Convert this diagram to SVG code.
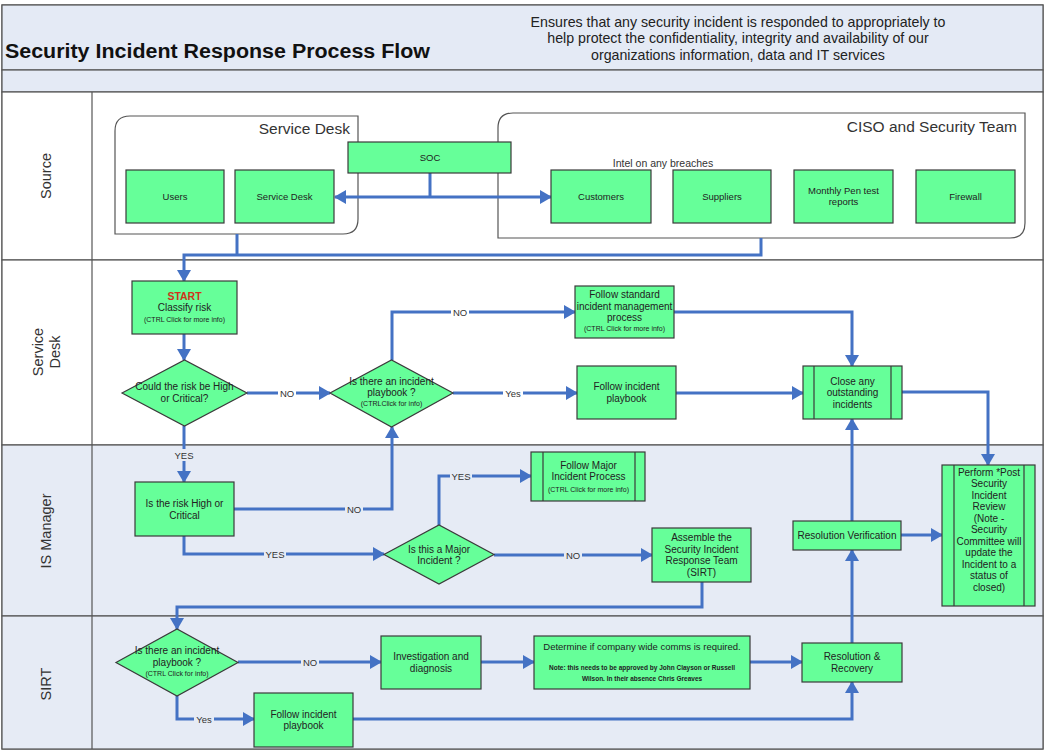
<svg xmlns="http://www.w3.org/2000/svg" width="1049" height="751" viewBox="0 0 1049 751">
<style>
text{font-family:"Liberation Sans",Arial,sans-serif;fill:#222}
.n{fill:#66FF99;stroke:#3a3a3a;stroke-width:1.2}
.il{stroke:#3a3a3a;stroke-width:1.2}
.t{font-size:10px;text-anchor:middle}
.ts{font-size:9.5px;text-anchor:middle}
.tx{font-size:7px;text-anchor:middle}
.c{fill:none;stroke:#4472C4;stroke-width:3}
.lb{font-size:9.5px;text-anchor:middle;fill:#333}
.lane{font-size:14.5px;text-anchor:middle;fill:#333}
.cont{fill:#fff;stroke:#555;stroke-width:1.2}
.hd{font-size:14.2px;text-anchor:middle;fill:#222}
</style>
<defs>
<marker id="ah" viewBox="0 0 12 14" markerWidth="12" markerHeight="14" refX="11" refY="7" orient="auto" markerUnits="userSpaceOnUse"><path d="M0,0 L12,7 L0,14 z" fill="#4472C4"/></marker>
</defs>

<g id="frame">
<rect x="2" y="5" width="1041" height="744" fill="#fff" stroke="#555" stroke-width="1.2"/>
<rect x="2" y="5" width="1041" height="65" fill="#e4eaf5" stroke="#555" stroke-width="1.2"/>
<rect x="2" y="70" width="1041" height="22" fill="#e4eaf5" stroke="#555" stroke-width="1.2"/>
<rect x="2" y="92" width="1041" height="168" fill="#fff" stroke="#555" stroke-width="1.2"/>
<rect x="2" y="260" width="1041" height="185" fill="#fff" stroke="#555" stroke-width="1.2"/>
<rect x="2" y="445" width="1041" height="171" fill="#e6ebf5" stroke="#555" stroke-width="1.2"/>
<rect x="2" y="616" width="1041" height="133" fill="#e6ebf5" stroke="#555" stroke-width="1.2"/>
<line x1="92" y1="92" x2="92" y2="749" stroke="#555" stroke-width="1.2"/>
<text x="5" y="58" textLength="425" lengthAdjust="spacingAndGlyphs" style="font-size:19.5px;font-weight:bold;fill:#111">Security Incident Response Process Flow</text>
<text class="hd" x="738" y="26.5">Ensures that any security incident is responded to appropriately to</text>
<text class="hd" x="738" y="43">help protect the confidentiality, integrity and availability of our</text>
<text class="hd" x="738" y="59.5">organizations information, data and IT services</text>
<text class="lane" transform="translate(51,176) rotate(-90)">Source</text>
<text class="lane" transform="translate(43,352) rotate(-90)">Service</text>
<text class="lane" transform="translate(60,352) rotate(-90)">Desk</text>
<text class="lane" transform="translate(51,531) rotate(-90)">IS Manager</text>
<text class="lane" transform="translate(51,684) rotate(-90)">SIRT</text>
</g>

<g id="containers">
<path class="cont" d="M115,131 Q115,116 130,116 H358 V219 Q358,234 343,234 H115 Z"/>
<text x="350" y="134" style="font-size:15.5px;text-anchor:end;fill:#333">Service Desk</text>
<path class="cont" d="M498,128 Q498,113 513,113 H1025 V223 Q1025,238 1010,238 H498 Z"/>
<text x="1017" y="132" style="font-size:15.5px;text-anchor:end;fill:#333">CISO and Security Team</text>
<text x="663" y="167" style="font-size:10.5px;text-anchor:middle;fill:#333">Intel on any breaches</text>
</g>

<g id="connectors">
<path class="c" d="M430,173 V197"/>
<path class="c" d="M430,197 H335" marker-end="url(#ah)"/>
<path class="c" d="M430,197 H551" marker-end="url(#ah)"/>
<path class="c" d="M237,234 V255"/>
<path class="c" d="M761,238 V255 H184 V281" marker-end="url(#ah)"/>
<path class="c" d="M184,334 V360" marker-end="url(#ah)"/>
<path class="c" d="M247,393 H330" marker-end="url(#ah)"/>
<path class="c" d="M392,360 V312 H575" marker-end="url(#ah)"/>
<path class="c" d="M453,393 H577" marker-end="url(#ah)"/>
<path class="c" d="M674,312 H852 V366" marker-end="url(#ah)"/>
<path class="c" d="M676,393 H803" marker-end="url(#ah)"/>
<path class="c" d="M902,392 H988 V465" marker-end="url(#ah)"/>
<path class="c" d="M184,426 V482" marker-end="url(#ah)"/>
<path class="c" d="M234,509 H392 V427" marker-end="url(#ah)"/>
<path class="c" d="M184,536 V554 H384" marker-end="url(#ah)"/>
<path class="c" d="M439,525 V476 H531" marker-end="url(#ah)"/>
<path class="c" d="M494,555 H652" marker-end="url(#ah)"/>
<path class="c" d="M702,582 V607 H177 V629" marker-end="url(#ah)"/>
<path class="c" d="M238,662 H381" marker-end="url(#ah)"/>
<path class="c" d="M481,662 H534" marker-end="url(#ah)"/>
<path class="c" d="M750,662 H802" marker-end="url(#ah)"/>
<path class="c" d="M177,696 V719 H254" marker-end="url(#ah)"/>
<path class="c" d="M353,719 H852 V682" marker-end="url(#ah)"/>
<path class="c" d="M852,643 V550" marker-end="url(#ah)"/>
<path class="c" d="M852,521 V419" marker-end="url(#ah)"/>
<path class="c" d="M901,535 H942" marker-end="url(#ah)"/>
<rect x="278" y="387" width="18" height="12" fill="#fff"/><text class="lb" x="287" y="396.5">NO</text>
<rect x="451" y="306" width="18" height="12" fill="#fff"/><text class="lb" x="460" y="315.5">NO</text>
<rect x="503" y="387" width="20" height="12" fill="#fff"/><text class="lb" x="513" y="396.5">Yes</text>
<rect x="173" y="449" width="22" height="12" fill="#e6ebf5"/><text class="lb" x="184" y="458.5">YES</text>
<rect x="345" y="503" width="18" height="12" fill="#e6ebf5"/><text class="lb" x="354" y="512.5">NO</text>
<rect x="264" y="548" width="22" height="12" fill="#e6ebf5"/><text class="lb" x="275" y="557.5">YES</text>
<rect x="450" y="470" width="22" height="12" fill="#e6ebf5"/><text class="lb" x="461" y="479.5">YES</text>
<rect x="564" y="549" width="18" height="12" fill="#e6ebf5"/><text class="lb" x="573" y="558.5">NO</text>
<rect x="301" y="656" width="18" height="12" fill="#e6ebf5"/><text class="lb" x="310" y="665.5">NO</text>
<rect x="194" y="713" width="20" height="12" fill="#e6ebf5"/><text class="lb" x="204" y="722.5">Yes</text>
</g>

<g id="soc"><rect class="n" x="348" y="142" width="163" height="31"/><text class="ts" x="430" y="160.5">SOC</text></g>
<g id="users"><rect class="n" x="126" y="170" width="98" height="53"/><text class="ts" x="175" y="200">Users</text></g>
<g id="servicedesk"><rect class="n" x="235" y="170" width="99" height="53"/><text class="ts" x="284.5" y="200">Service Desk</text></g>
<g id="customers"><rect class="n" x="551" y="170" width="100" height="53"/><text class="ts" x="601" y="200">Customers</text></g>
<g id="suppliers"><rect class="n" x="673" y="170" width="98" height="53"/><text class="ts" x="722" y="200">Suppliers</text></g>
<g id="pentest"><rect class="n" x="794" y="170" width="99" height="53"/><text class="ts" x="843.5" y="193.5">Monthly Pen test</text><text class="ts" x="843.5" y="205">reports</text></g>
<g id="firewall"><rect class="n" x="916" y="170" width="99" height="53"/><text class="ts" x="965.5" y="200">Firewall</text></g>

<g id="start"><rect class="n" x="132" y="281" width="105" height="53"/>
<text x="184.5" y="299.5" style="font-size:10.5px;font-weight:bold;fill:#d0341a;text-anchor:middle">START</text>
<text class="t" x="184.5" y="311">Classify risk</text>
<text class="tx" x="184.5" y="321.5">(CTRL Click for more info)</text></g>

<g id="d1"><polygon class="n" points="122,393 184.5,360 247,393 184.5,426"/>
<text class="t" x="184.5" y="390.2">Could the risk be High</text><text class="t" x="184.5" y="401.8">or Critical?</text></g>

<g id="d2"><polygon class="n" points="330,393 391.5,360 453,393 391.5,427"/>
<text class="t" x="391.5" y="384.5">Is there an incident</text><text class="t" x="391.5" y="395.5">playbook ?</text>
<text class="tx" x="391.5" y="406.4">(CTRLClick for info)</text></g>

<g id="standard"><rect class="n" x="575" y="286" width="99" height="52"/>
<text class="t" x="624.5" y="297.5">Follow standard</text><text class="t" x="624.5" y="309.5">incident management</text>
<text class="t" x="624.5" y="320.5">process</text><text class="tx" x="624.5" y="331.4">(CTRL Click for more info)</text></g>

<g id="playbook1"><rect class="n" x="577" y="366" width="99" height="53"/>
<text class="t" x="626.5" y="390">Follow incident</text><text class="t" x="626.5" y="401.5">playbook</text></g>

<g id="close"><rect class="n" x="803" y="366" width="99" height="53"/>
<line class="il" x1="814" y1="366" x2="814" y2="419"/><line class="il" x1="891" y1="366" x2="891" y2="419"/>
<text class="t" x="852.5" y="384.5">Close any</text><text class="t" x="852.5" y="396">outstanding</text><text class="t" x="852.5" y="407.5">incidents</text></g>

<g id="isrisk"><rect class="n" x="135" y="482" width="99" height="54"/>
<text class="t" x="184.5" y="506.5">Is the risk High or</text><text class="t" x="184.5" y="518.5">Critical</text></g>

<g id="d3"><polygon class="n" points="384,554.5 439,525 494,554.5 439,584"/>
<text class="t" x="439" y="552.5">Is this a Major</text><text class="t" x="439" y="563.5">Incident ?</text></g>

<g id="major"><rect class="n" x="531" y="452" width="114" height="49"/>
<line class="il" x1="543" y1="452" x2="543" y2="501"/><line class="il" x1="635" y1="452" x2="635" y2="501"/>
<text class="t" x="588.5" y="468.5">Follow Major</text><text class="t" x="588.5" y="479.5">Incident Process</text>
<text class="tx" x="588.5" y="491.5">(CTRL Click for more info)</text></g>

<g id="assemble"><rect class="n" x="652" y="528" width="99" height="54"/>
<text class="t" x="701.5" y="540.5">Assemble the</text><text class="t" x="701.5" y="552.5">Security Incident</text>
<text class="t" x="701.5" y="563.5">Response Team</text><text class="t" x="701.5" y="575.5">(SIRT)</text></g>

<g id="verification"><rect class="n" x="793" y="521" width="108" height="29"/>
<text class="t" x="847" y="539">Resolution Verification</text></g>

<g id="review"><rect class="n" x="942" y="465" width="93" height="141"/>
<line class="il" x1="954" y1="465" x2="954" y2="606"/><line class="il" x1="1024" y1="465" x2="1024" y2="606"/>
<text class="t" x="989" y="475.5">Perform *Post</text><text class="t" x="989" y="487">Security</text>
<text class="t" x="989" y="498.5">Incident</text><text class="t" x="989" y="510">Review</text>
<text class="t" x="989" y="521.5">(Note -</text><text class="t" x="989" y="533">Security</text>
<text class="t" x="989" y="544.5">Committee will</text><text class="t" x="989" y="556">update the</text>
<text class="t" x="989" y="567.5">Incident to a</text><text class="t" x="989" y="579">status of</text>
<text class="t" x="989" y="590.5">closed)</text></g>

<g id="d4"><polygon class="n" points="116,662.5 177,629 238,662.5 177,696"/>
<text class="t" x="177" y="654">Is there an incident</text><text class="t" x="177" y="665.5">playbook ?</text>
<text class="tx" x="177" y="676.4">(CTRL Click for info)</text></g>

<g id="investigation"><rect class="n" x="381" y="636" width="100" height="53"/>
<text class="t" x="431" y="660">Investigation and</text><text class="t" x="431" y="671.5">diagnosis</text></g>

<g id="determine"><rect class="n" x="534" y="636" width="216" height="53"/>
<text class="ts" x="642" y="650">Determine if company wide comms is required.</text>
<text x="642" y="670.3" style="font-size:6.5px;font-weight:bold;text-anchor:middle">Note: this needs to be approved by John Clayson or Russell</text>
<text x="642" y="681.3" style="font-size:6.5px;font-weight:bold;text-anchor:middle">Wilson. In their absence Chris Greaves</text></g>

<g id="recovery"><rect class="n" x="802" y="643" width="100" height="39"/>
<text class="t" x="852" y="660">Resolution &amp;</text><text class="t" x="852" y="671.5">Recovery</text></g>

<g id="playbook2"><rect class="n" x="254" y="693" width="99" height="54"/>
<text class="t" x="303.5" y="717.5">Follow incident</text><text class="t" x="303.5" y="729">playbook</text></g>
</svg>
